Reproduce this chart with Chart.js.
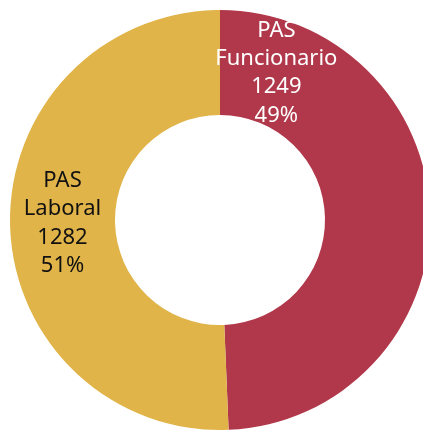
<!DOCTYPE html>
<html lang="es">
<head>
    <meta charset="UTF-8">
    <title>PAS</title>
    <script src="https://cdn.jsdelivr.net/npm/chart.js"></script>
    <style>
        html, body {
            margin: 0;
            padding: 0;
            background: #ffffff;
            overflow: hidden;
        }

        .chart-container {
            position: absolute;
            left: 0;
            top: 0;
            width: 440px;
            height: 440px;
        }
    </style>
</head>
<body>

    <div class="chart-container">
        <canvas id="pasChart"></canvas>
    </div>

    <script>
        const categories = [["PAS", "Funcionario"], ["PAS", "Laboral"]];
        const staffCounts = [1249, 1282];
        const percentLabels = ["49%", "51%"];

        const sliceColors = ['#B0384A', '#E0B449'];
        const textColors = ['#ffffff', '#111111'];
        // where along each slice the label sits (0 = start, 1 = end)
        const labelAnchor = [0.118, 0.5];

        const sliceLabels = {
            id: 'sliceLabels',
            afterDatasetsDraw(chart) {
                const ctx = chart.ctx;
                const meta = chart.getDatasetMeta(0);
                ctx.save();
                ctx.font = '22px "Noto Sans"';
                ctx.textAlign = 'center';
                ctx.textBaseline = 'middle';
                meta.data.forEach((arc, i) => {
                    const p = arc.getProps(['x', 'y', 'startAngle', 'endAngle', 'innerRadius', 'outerRadius'], true);
                    const angle = p.startAngle + (p.endAngle - p.startAngle) * labelAnchor[i];
                    const r = (p.innerRadius + p.outerRadius) / 2;
                    const cx = p.x + Math.cos(angle) * r;
                    const cy = p.y + Math.sin(angle) * r;
                    const lines = [...categories[i], String(staffCounts[i]), percentLabels[i]];
                    const lh = 28.3;
                    ctx.fillStyle = textColors[i];
                    lines.forEach((t, k) => {
                        ctx.fillText(t, cx, cy + (k - (lines.length - 1) / 2) * lh);
                    });
                });
                ctx.restore();
            }
        };

        new Chart(document.getElementById('pasChart'), {
            type: 'doughnut',
            data: {
                labels: categories.map(c => c.join(' ')),
                datasets: [{
                    data: staffCounts,
                    backgroundColor: sliceColors,
                    borderWidth: 0
                }]
            },
            options: {
                responsive: true,
                maintainAspectRatio: false,
                animation: false,
                cutout: '50%',
                layout: { padding: 10 },
                plugins: {
                    legend: { display: false },
                    tooltip: { enabled: false }
                }
            },
            plugins: [sliceLabels]
        });
    </script>

</body>
</html>
